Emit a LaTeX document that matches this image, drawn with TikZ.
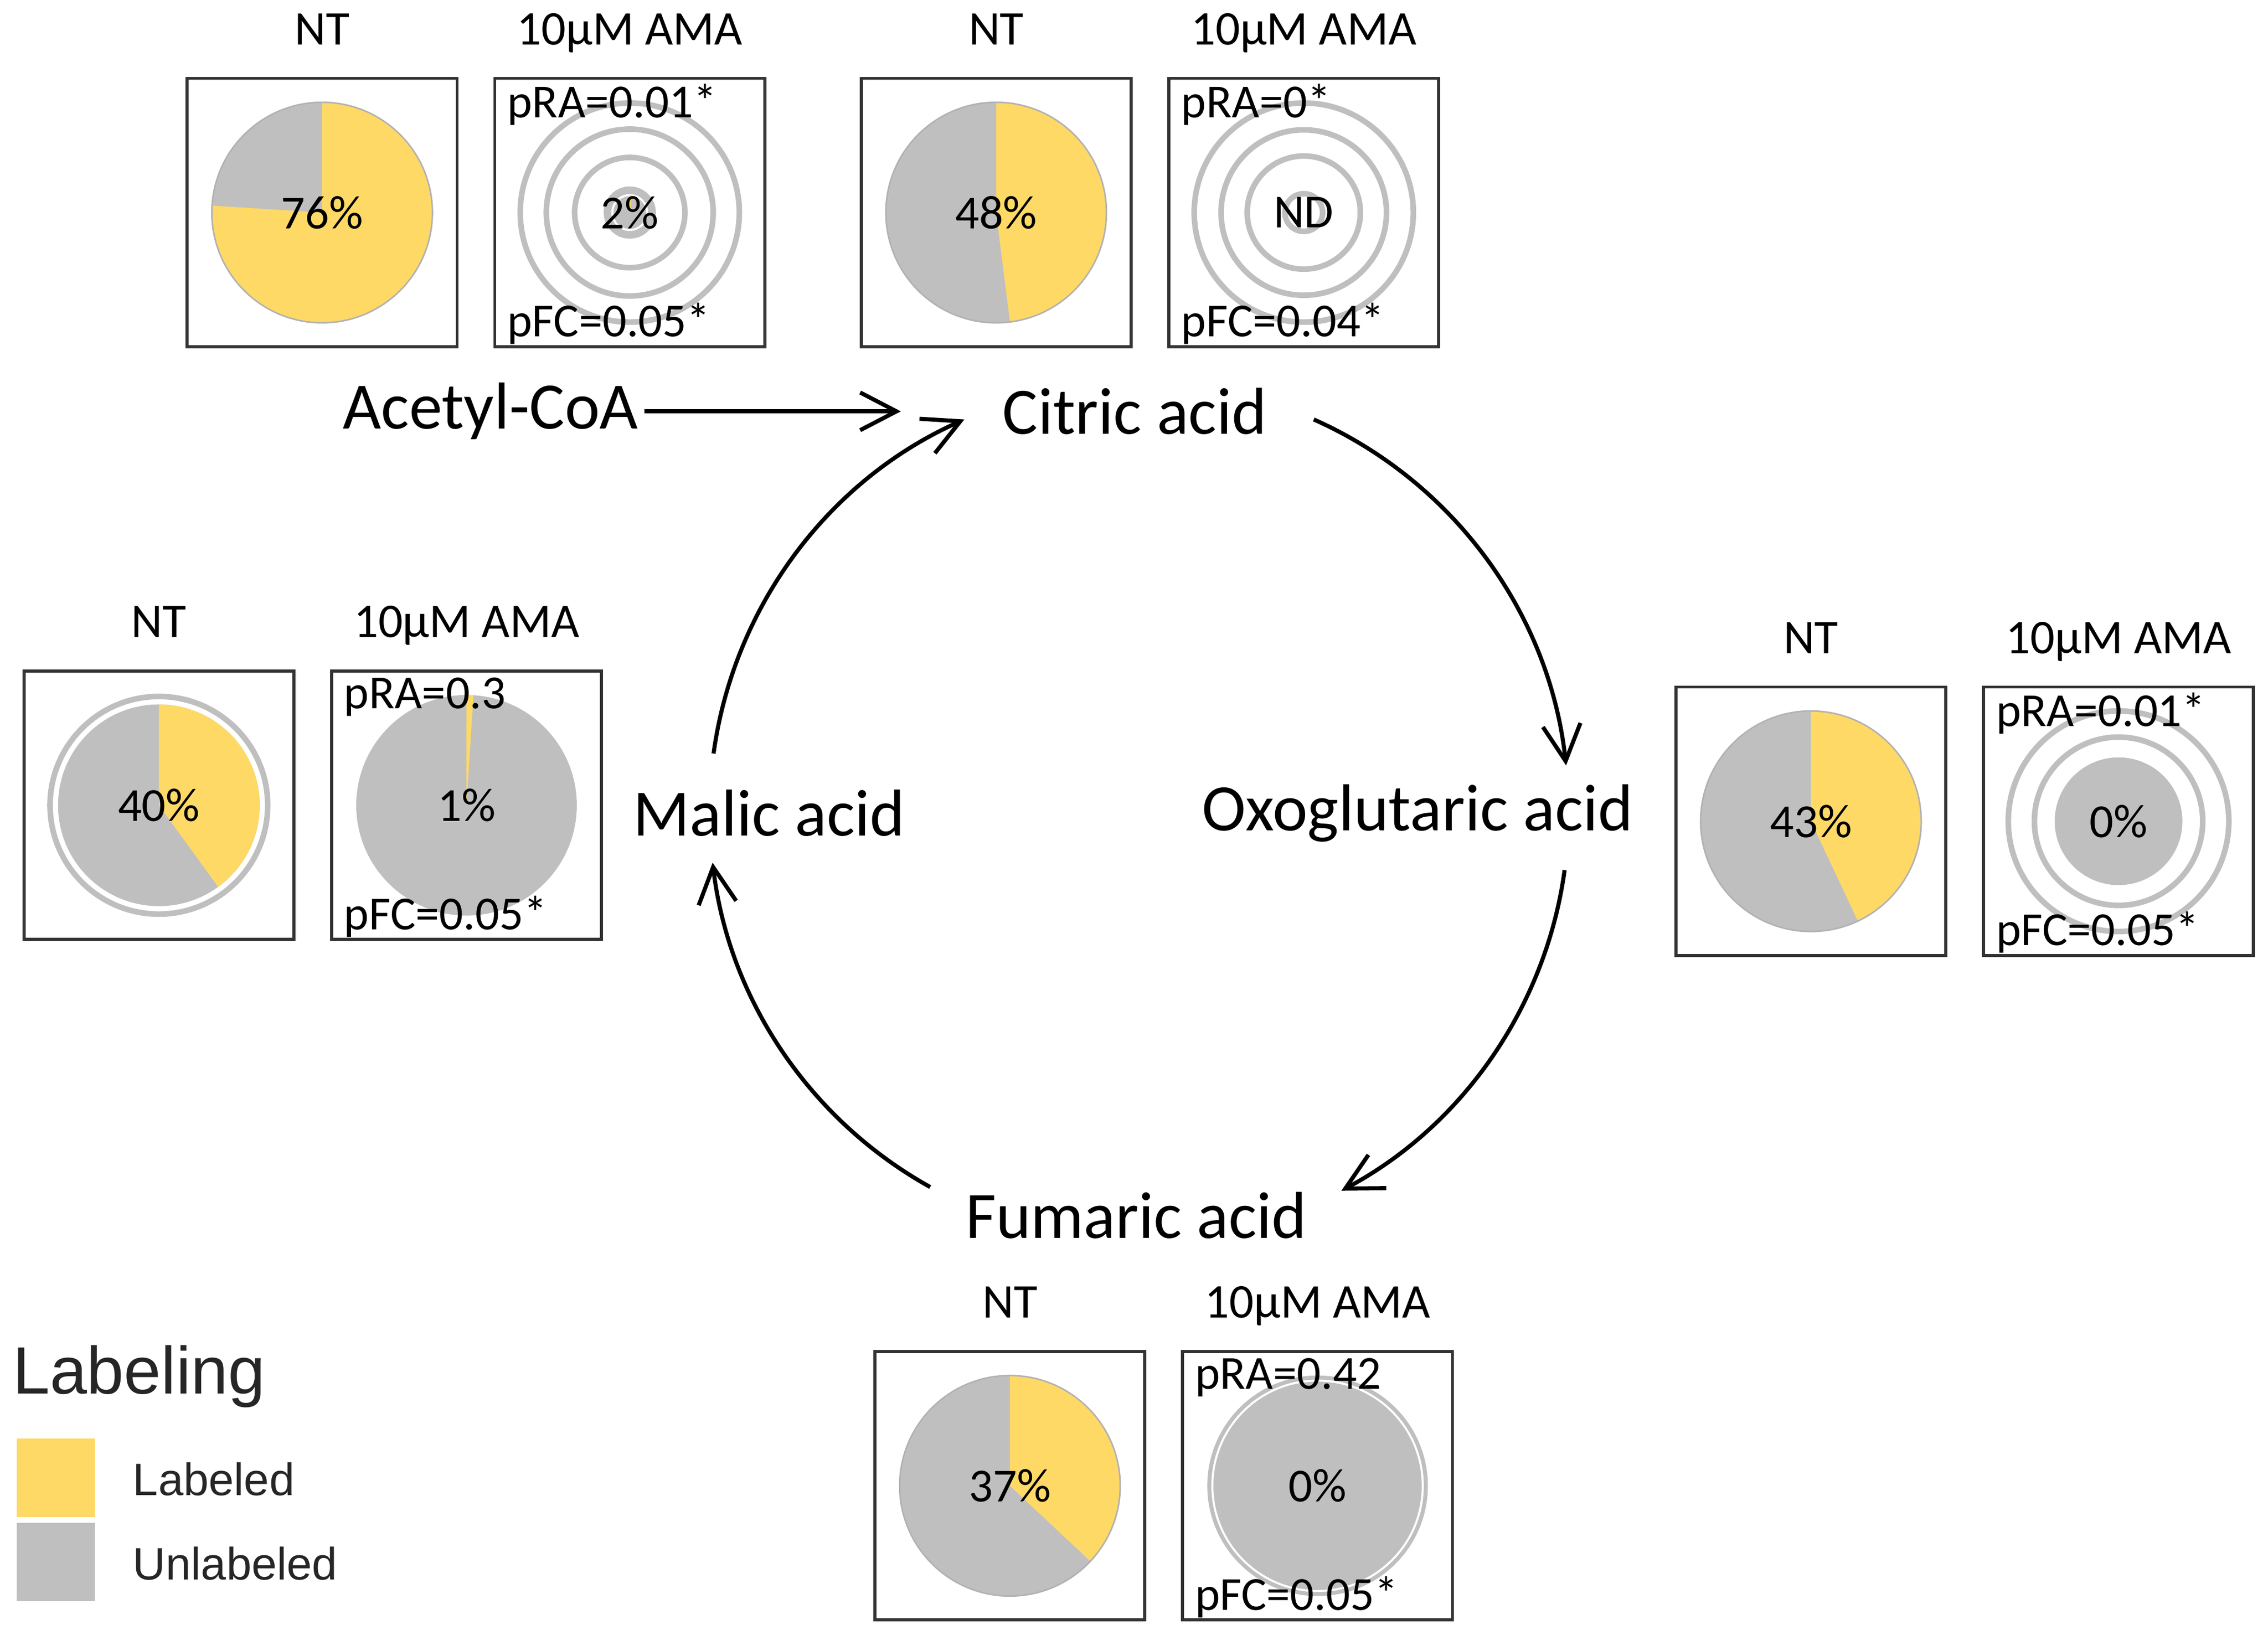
\documentclass[tikz,border=0pt]{standalone}
\usepackage{fontspec}
\setmainfont{Carlito}
\newfontfamily\legendfont{Liberation Sans}
\usepackage{tikz}
\usetikzlibrary{arrows.meta, calc}
\definecolor{labcol}{HTML}{FFD966}
\definecolor{unlabcol}{HTML}{BFBFBF}
\tikzstyle{panel} = [rectangle, minimum width=18.6mm, minimum height=18.5mm, inner sep=0pt, draw=black!80, line width=0.6pt]
\tikzstyle{metab} = [inner sep=1pt, font=\fontsize{13}{15}\selectfont]
\tikzstyle{head} = [inner sep=0pt, text height=0.65em, text depth=0.2em, font=\fontsize{9.5}{11}\selectfont]
\tikzstyle{stat} = [inner sep=0pt, anchor=west, font=\fontsize{9.3}{11}\selectfont]
\tikzstyle{pct} = [inner sep=0pt, font=\fontsize{9.3}{11}\selectfont]
\tikzstyle{ring} = [draw=unlabcol, line width=1.1pt]
\tikzstyle{pieedge} = [draw=black!30, line width=0.3pt]
\tikzstyle{arrow} = [line width=0.8pt, -{Straight Barb[length=2.5mm, width=2.6mm]}]
\tikzstyle{swatch} = [rectangle, minimum size=5.4mm, inner sep=0pt]
\tikzstyle{legtext} = [inner sep=0pt, anchor=west, text=black!85]

\begin{document}
\begin{tikzpicture}[x=0.1mm, y=0.1mm, node distance=21.2mm]
\useasboundingbox (0,0) rectangle (1563,1126.5);

% metabolites
\node (acoa) [metab] at (338,843) {Acetyl-CoA};
\node (cit) [metab] at (782,843) {Citric acid};
\node (oxo) [metab] at (977,566) {Oxoglutaric acid};
\node (fum) [metab] at (783,289) {Fumaric acid};
\node (mal) [metab] at (530,566) {Malic acid};

% panels
\node (acoa_nt) [panel] at (222,980) {};
\node (acoa_ama) [panel, right of=acoa_nt] {};
\node (cit_nt) [panel] at (686.5,980) {};
\node (cit_ama) [panel, right of=cit_nt] {};
\node (mal_nt) [panel] at (109.5,571.5) {};
\node (mal_ama) [panel, right of=mal_nt] {};
\node (oxo_nt) [panel] at (1248,560.5) {};
\node (oxo_ama) [panel, right of=oxo_nt] {};
\node (fum_nt) [panel] at (696,102.5) {};
\node (fum_ama) [panel, right of=fum_nt] {};

% panel headings
\node (acoa_nthd) [head] at ([yshift=3mm]acoa_nt.north) {NT};
\node (acoa_amahd) [head] at ([yshift=3mm]acoa_ama.north) {10µM AMA};
\node (cit_nthd) [head] at ([yshift=3mm]cit_nt.north) {NT};
\node (cit_amahd) [head] at ([yshift=3mm]cit_ama.north) {10µM AMA};
\node (mal_nthd) [head] at ([yshift=3mm]mal_nt.north) {NT};
\node (mal_amahd) [head] at ([yshift=3mm]mal_ama.north) {10µM AMA};
\node (oxo_nthd) [head] at ([yshift=3mm]oxo_nt.north) {NT};
\node (oxo_amahd) [head] at ([yshift=3mm]oxo_ama.north) {10µM AMA};
\node (fum_nthd) [head] at ([yshift=3mm]fum_nt.north) {NT};
\node (fum_amahd) [head] at ([yshift=3mm]fum_ama.north) {10µM AMA};

% NT pies
\fill [unlabcol] (acoa_nt.center) circle [radius=76];
\fill [labcol] (acoa_nt.center) -- ++(90:76) arc [start angle=90, end angle=-183.6, radius=76] -- cycle;
\draw [pieedge] (acoa_nt.center) circle [radius=76];
\fill [unlabcol] (cit_nt.center) circle [radius=76];
\fill [labcol] (cit_nt.center) -- ++(90:76) arc [start angle=90, end angle=-82.8, radius=76] -- cycle;
\draw [pieedge] (cit_nt.center) circle [radius=76];
\draw [ring] (mal_nt.center) circle [radius=75];
\fill [unlabcol] (mal_nt.center) circle [radius=69.5];
\fill [labcol] (mal_nt.center) -- ++(90:69.5) arc [start angle=90, end angle=-54, radius=69.5] -- cycle;
\fill [unlabcol] (oxo_nt.center) circle [radius=76];
\fill [labcol] (oxo_nt.center) -- ++(90:76) arc [start angle=90, end angle=-64.8, radius=76] -- cycle;
\draw [pieedge] (oxo_nt.center) circle [radius=76];
\fill [unlabcol] (fum_nt.center) circle [radius=76];
\fill [labcol] (fum_nt.center) -- ++(90:76) arc [start angle=90, end angle=-43.2, radius=76] -- cycle;
\draw [pieedge] (fum_nt.center) circle [radius=76];

% AMA pies
\draw [ring] (acoa_ama.center) circle [radius=75.5];
\draw [ring] (acoa_ama.center) circle [radius=57.5];
\draw [ring] (acoa_ama.center) circle [radius=38];
\fill [unlabcol] (acoa_ama.center) circle [radius=18];
\draw [white, line width=0.4pt] (acoa_ama.center) circle [radius=12];
\fill [labcol] (acoa_ama.center) -- ++(90:12) arc [start angle=90, end angle=82.8, radius=12] -- cycle;
\draw [ring] (cit_ama.center) circle [radius=75.5];
\draw [ring] (cit_ama.center) circle [radius=57];
\draw [ring] (cit_ama.center) circle [radius=39];
\draw [ring] (cit_ama.center) circle [radius=13];
\fill [unlabcol] (mal_ama.center) circle [radius=76];
\fill [labcol] (mal_ama.center) -- ++(90:76) arc [start angle=90, end angle=86.4, radius=76] -- cycle;
\draw [ring] (oxo_ama.center) circle [radius=76];
\draw [ring] (oxo_ama.center) circle [radius=58];
\fill [unlabcol] (oxo_ama.center) circle [radius=44];
\fill [unlabcol] (fum_ama.center) circle [radius=76];
\draw [white, line width=0.4pt] (fum_ama.center) circle [radius=72.5];

% percentages
\node (acoa_ntpct) [pct] at (acoa_nt) {76\%};
\node (acoa_amapct) [pct] at (acoa_ama) {2\%};
\node (cit_ntpct) [pct] at (cit_nt) {48\%};
\node (cit_amapct) [pct] at (cit_ama) {ND};
\node (mal_ntpct) [pct] at (mal_nt) {40\%};
\node (mal_amapct) [pct] at (mal_ama) {1\%};
\node (oxo_ntpct) [pct] at (oxo_nt) {43\%};
\node (oxo_amapct) [pct] at (oxo_ama) {0\%};
\node (fum_ntpct) [pct] at (fum_nt) {37\%};
\node (fum_amapct) [pct] at (fum_ama) {0\%};

% p values
\node (acoa_pra) [stat] at ([xshift=0.9mm, yshift=-1.9mm]acoa_ama.north west) {pRA=0.01*};
\node (acoa_pfc) [stat] at ([xshift=0.9mm, yshift=1.7mm]acoa_ama.south west) {pFC=0.05*};
\node (cit_pra) [stat] at ([xshift=0.9mm, yshift=-1.9mm]cit_ama.north west) {pRA=0*};
\node (cit_pfc) [stat] at ([xshift=0.9mm, yshift=1.7mm]cit_ama.south west) {pFC=0.04*};
\node (mal_pra) [stat] at ([xshift=0.9mm, yshift=-1.9mm]mal_ama.north west) {pRA=0.3};
\node (mal_pfc) [stat] at ([xshift=0.9mm, yshift=1.7mm]mal_ama.south west) {pFC=0.05*};
\node (oxo_pra) [stat] at ([xshift=0.9mm, yshift=-1.9mm]oxo_ama.north west) {pRA=0.01*};
\node (oxo_pfc) [stat] at ([xshift=0.9mm, yshift=1.7mm]oxo_ama.south west) {pFC=0.05*};
\node (fum_pra) [stat] at ([xshift=0.9mm, yshift=-1.9mm]fum_ama.north west) {pRA=0.42};
\node (fum_pfc) [stat] at ([xshift=0.9mm, yshift=1.7mm]fum_ama.south west) {pFC=0.05*};

% cycle
\coordinate (cyc) at (785,567);
\coordinate (cit_out) at ($(cyc)+(66:296)$);
\coordinate (oxo_out) at ($(cyc)+(-7.8:296)$);
\coordinate (fum_out) at ($(cyc)+(-119.1:296)$);
\coordinate (mal_out) at ($(cyc)+(172.2:296)$);

\draw [arrow, shorten >=6.6mm] (acoa) -- (cit);
\draw [arrow] (cit_out) arc [start angle=66, end angle=6.2, radius=296];
\draw [arrow] (oxo_out) arc [start angle=-7.8, end angle=-61.9, radius=296];
\draw [arrow] (fum_out) arc [start angle=-119.1, end angle=-173.2, radius=296];
\draw [arrow] (mal_out) arc [start angle=172.2, end angle=114, radius=296];

% legend
\node (labtitle) [legtext, font=\legendfont\fontsize{13.1}{15}\selectfont] at (8,178) {Labeling};
\node (labsw) [swatch, fill=labcol] at (38.4,108) {};
\node (unlabsw) [swatch, fill=unlabcol] at (38.4,50) {};
\node (labtxt) [legtext, font=\legendfont\fontsize{8.9}{11}\selectfont] at (91,107) {Labeled};
\node (unlabtxt) [legtext, font=\legendfont\fontsize{8.9}{11}\selectfont] at (91,49) {Unlabeled};

\end{tikzpicture}
\end{document}
